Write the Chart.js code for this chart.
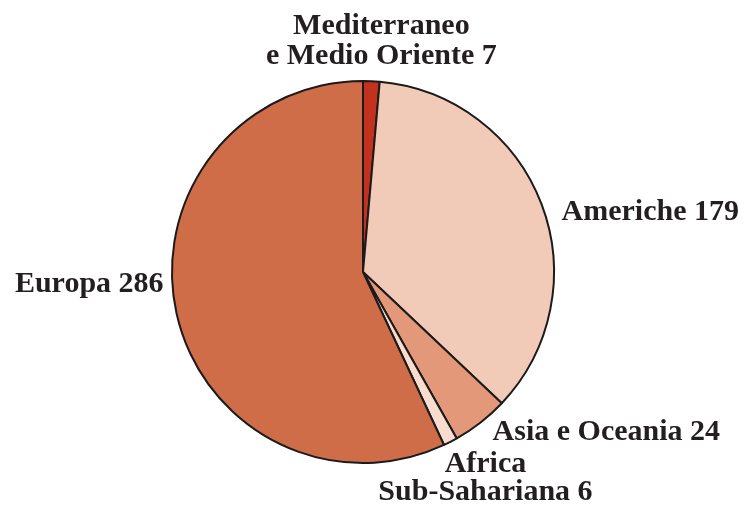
<!DOCTYPE html>
<html>
<head>
<meta charset="utf-8">
<script src="https://cdn.jsdelivr.net/npm/chart.js@4"></script>
<style>
  body { margin: 0; background: #fff; }
  #wrap { width: 744px; height: 505px; }
</style>
</head>
<body>
<div id="wrap"><canvas id="regionsChart"></canvas></div>
<script>
// Data
const regions = [["Mediterraneo", "e Medio Oriente 7"], "Americhe 179", "Asia e Oceania 24", ["Africa", "Sub-Sahariana 6"], "Europa 286"];
const counts = [7, 179, 24, 6, 286];
const sliceColors = ["#c2321f", "#f2cbb8", "#e39879", "#f8dcce", "#cf6d48"];

// label placement relative to the outer edge of each slice
const labelFont = "bold 30px 'Liberation Serif'";
const labelStyle = [
  { dx: 10, dy: -47, lh: 30, align: "center" },
  { dx: 20, dy: 16, lh: 0, align: "left" },
  { dx: 12, dy: 18, lh: 0, align: "left" },
  { dx: 35, dy: 30, lh: 28, align: "center" },
  { dx: -13, dy: -22, lh: 0, align: "right" }
];

const sliceLabels = {
  id: "sliceLabels",
  afterDatasetsDraw(chart) {
    const ctx = chart.ctx;
    const arcs = chart.getDatasetMeta(0).data;
    ctx.save();
    ctx.fillStyle = "#231f20";
    ctx.textBaseline = "alphabetic";
    ctx.font = labelFont;
    arcs.forEach((arc, i) => {
      const p = arc.getProps(["x", "y", "startAngle", "endAngle", "outerRadius"], true);
      const mid = (p.startAngle + p.endAngle) / 2;
      const ax = p.x + Math.cos(mid) * p.outerRadius;
      const ay = p.y + Math.sin(mid) * p.outerRadius;
      const s = labelStyle[i];
      ctx.textAlign = s.align;
      const lines = [].concat(regions[i]);
      lines.forEach((line, j) => {
        ctx.fillText(line, ax + s.dx, ay + s.dy + j * s.lh);
      });
    });
    ctx.restore();
  }
};

new Chart(document.getElementById("regionsChart"), {
  type: "pie",
  data: {
    labels: regions.map(r => [].concat(r).join(" ")),
    datasets: [{
      data: counts,
      backgroundColor: sliceColors,
      borderColor: "#1c1a1a",
      borderWidth: 2
    }]
  },
  options: {
    responsive: true,
    maintainAspectRatio: false,
    animation: false,
    layout: { padding: { top: 80, bottom: 41, left: 171, right: 189 } },
    plugins: {
      legend: { display: false },
      tooltip: { enabled: false }
    }
  },
  plugins: [sliceLabels]
});
</script>
</body>
</html>
